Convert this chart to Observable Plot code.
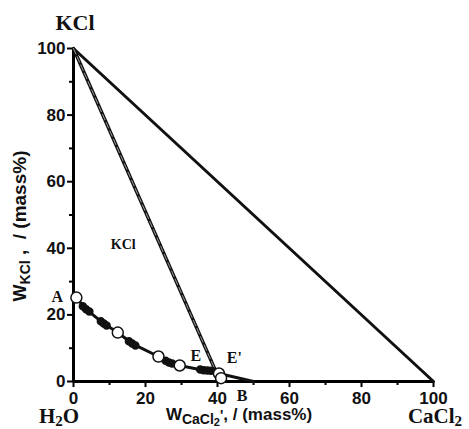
<!DOCTYPE html>
<html><head><meta charset="utf-8">
<script src="https://cdn.jsdelivr.net/npm/d3@7"></script>
<script src="https://cdn.jsdelivr.net/npm/@observablehq/plot@0.6"></script>
<style>body{margin:0;background:#fff}</style></head>
<body><div id="chart"></div>
<script>
// Data (mass %)
const majorTicks = [0, 20, 40, 60, 80, 100];
const minorTicks = [10, 30, 50, 70, 90];
// triangle edge KCl - CaCl2
const edgeX = [0, 100];
const edgeY = [100, 0];
// tie line from KCl vertex to the invariant point
const tieX = [0, 39.6];
const tieY = [100, 2.9];
// solubility curve A -> E -> E' -> B side
const curveX = [0.8, 3.3, 8.4, 12.3, 16.3, 23.6, 26.5, 29.5, 36.0, 38.9, 40.4, 50.0];
const curveY = [25.2, 21.9, 17.4, 14.7, 11.4, 7.5, 5.7, 4.8, 3.4, 3.2, 2.4, 0.0];
// open circles
const openX = [0.8, 12.3, 23.6, 29.5, 40.4, 41.0];
const openY = [25.2, 14.7, 7.5, 4.8, 2.4, 1.0];
// filled points
const filledX = [2.6, 3.5, 4.4, 7.6, 8.4, 9.2, 15.4, 16.3, 17.2, 25.6, 26.5, 27.4, 35.2, 36.2, 37.2, 38.2];
const filledY = [22.6, 21.7, 21.0, 18.1, 17.4, 16.8, 12.1, 11.4, 10.8, 6.2, 5.7, 5.4, 3.6, 3.4, 3.3, 3.2];
// point labels
const ptLabels = ["A", "E", "E'", "B"];
const ptLabelX = [-4.5, 34.0, 44.7, 46.8];
const ptLabelY = [25.5, 7.8, 7.1, -4.2];

const zip = (xs, ys) => xs.map((x, i) => ({x, y: ys[i]}));
const serif = "Liberation Serif";
const sans = "Liberation Sans";

const plot = Plot.plot({
  width: 469, height: 429,
  marginLeft: 73, marginRight: 36, marginTop: 48, marginBottom: 48,
  x: {domain: [0, 100]},
  y: {domain: [0, 100]},
  style: {fontFamily: sans, background: "white", overflow: "visible"},
  marks: [
    Plot.axisX({ticks: majorTicks, tickSize: 6, tickPadding: 4, fontSize: 17, fontWeight: "bold", strokeWidth: 2, label: null, fill: "#111"}),
    Plot.axisX({ticks: minorTicks, tickSize: 4, tickFormat: () => "", strokeWidth: 2, label: null}),
    Plot.axisY({ticks: majorTicks, tickSize: 6, tickPadding: 2, fontSize: 17, fontWeight: "bold", strokeWidth: 2, label: null, fill: "#111"}),
    Plot.axisY({ticks: minorTicks, tickSize: 4, tickFormat: () => "", strokeWidth: 2, label: null}),
    Plot.ruleX([0], {strokeWidth: 3}),
    Plot.ruleY([0], {strokeWidth: 3}),
    Plot.line(zip(edgeX, edgeY), {x: "x", y: "y", strokeWidth: 3, stroke: "#111"}),
    Plot.line(zip(tieX, tieY), {x: "x", y: "y", strokeWidth: 3.5, stroke: "#111"}),
    Plot.line(zip(tieX, tieY), {x: "x", y: "y", strokeWidth: 1, stroke: "#999", strokeDasharray: "6,3"}),
    Plot.line(zip(curveX, curveY), {x: "x", y: "y", strokeWidth: 3, stroke: "#111"}),
    Plot.dot(zip(filledX, filledY), {x: "x", y: "y", r: 3.5, fill: "#111", stroke: "#111"}),
    Plot.dot(zip(openX, openY), {x: "x", y: "y", r: 5.5, fill: "white", stroke: "#111", strokeWidth: 1.5}),
    Plot.text(zip(ptLabelX, ptLabelY).map((d, i) => ({...d, t: ptLabels[i]})), {x: "x", y: "y", text: "t", fontFamily: serif, fontWeight: "bold", fontSize: 16, fill: "#111"}),
    Plot.text([{x: 13.8, y: 41, t: "KCl"}], {x: "x", y: "y", text: "t", fontFamily: serif, fontWeight: "bold", fontSize: 14, fill: "#111"})
  ]
});
document.getElementById("chart").appendChild(plot);

// titles with subscripts
const svg = d3.select(plot);
const X = plot.scale("x");
function addText(x, y, anchor, parts, font, rotate) {
  const t = svg.append("text")
    .attr("text-anchor", anchor)
    .attr("font-family", font).attr("font-weight", "bold").attr("fill", "#111")
    .attr("transform", `translate(${x},${y})` + (rotate ? " rotate(-90)" : ""));
  for (const [s, size, dy] of parts) {
    t.append("tspan").attr("font-size", size).attr("dy", dy).text(s);
  }
}
addText(X.apply(0) + 2, 30, "middle", [["KCl", 22, 0]], serif);
addText(X.apply(0) - 14, 423, "middle", [["H", 21, 0], ["2", 15, 3], ["O", 21, -3]], serif);
addText(X.apply(100) + 2, 423, "middle", [["CaCl", 21, 0], ["2", 15, 3]], serif);
addText(239, 420, "middle", [["W", 17, 0], ["CaCl", 14, 4], ["2", 11, 2], ["'", 14, -6], [", / (mass%)", 17, 0]], sans);
addText(26, 226, "middle", [["W", 18, 0], ["KCl", 14, 4], [" ,  / (mass%)", 19, -4]], sans, true);
</script>
</body></html>
